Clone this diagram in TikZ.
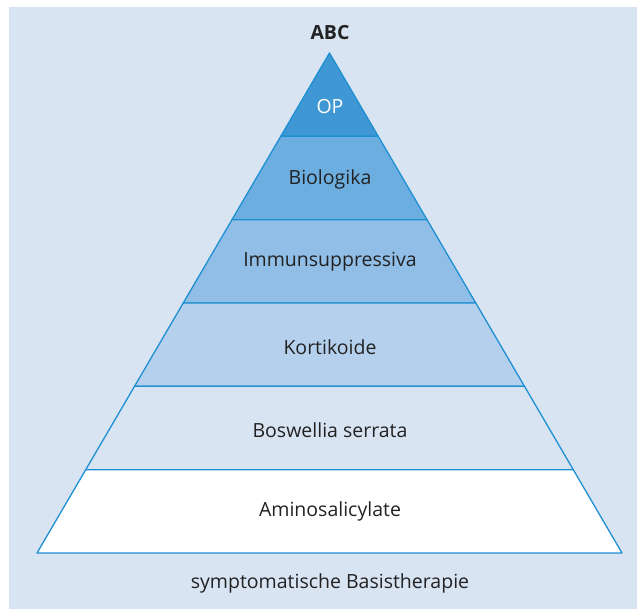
\documentclass[tikz,border=0pt]{standalone}
\usepackage{fontspec}
\setmainfont{Open Sans}
\definecolor{bgblue}{HTML}{D9E4F3}
\definecolor{edgeblue}{HTML}{1E90D2}
\definecolor{opblue}{HTML}{3F97D4}
\definecolor{bioblue}{HTML}{6DAEE0}
\definecolor{immblue}{HTML}{91BEE6}
\definecolor{kortblue}{HTML}{B4D0ED}
\definecolor{textgray}{HTML}{222222}
\begin{document}
\begin{tikzpicture}[x=1pt,y=-1pt,
    layer/.style={draw=edgeblue,line width=1.3pt,line join=round},
    lbl/.style={font=\fontsize{19.5}{22}\selectfont,text=textgray}]
    \useasboundingbox (0,0) rectangle (637,609);
    \fill[bgblue] (9,7) rectangle (637,609);
    % pyramid, six layers of equal height
    \foreach \k/\col in {1/opblue,2/bioblue,3/immblue,4/kortblue,5/bgblue,6/white}{
        \pgfmathsetmacro\ytop{53+83.333*(\k-1)}
        \pgfmathsetmacro\ybot{53+83.333*\k}
        \pgfmathsetmacro\wtop{48.75*(\k-1)}
        \pgfmathsetmacro\wbot{48.75*\k}
        \filldraw[layer,fill=\col] (329.5-\wtop,\ytop) -- (329.5+\wtop,\ytop)
            -- (329.5+\wbot,\ybot) -- (329.5-\wbot,\ybot) -- cycle;
    }
    \node[lbl,font=\fontsize{19.5}{22}\selectfont\bfseries] (abc) at (330,33) {ABC};
    \node[lbl,text=white] (op) at (330,107) {OP};
    \node[lbl] (bio) at (330,179) {Biologika};
    \node[lbl] (imm) at (330,262) {Immunsuppressiva};
    \node[lbl] (kort) at (330,347) {Kortikoide};
    \node[lbl] (bosw) at (330,430) {Boswellia serrata};
    \node[lbl] (amino) at (330,511) {Aminosalicylate};
    \node[lbl] (basis) at (330,583) {symptomatische Basistherapie};
\end{tikzpicture}
\end{document}
